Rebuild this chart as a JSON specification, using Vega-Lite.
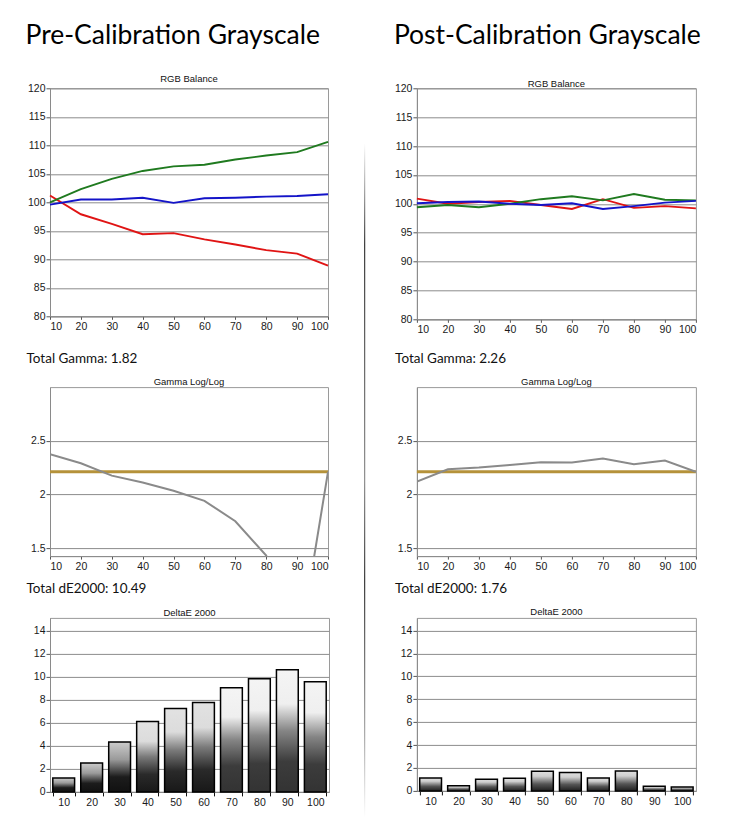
{
  "$schema": "https://vega.github.io/schema/vega-lite/v6.json",
  "background": "white",
  "padding": {"left": 25, "top": 22.3, "right": 5, "bottom": 5},
  "datasets": {
    "rgbPre": [
      {"x": 10, "ch": "R", "v": 101.2}, {"x": 20, "ch": "R", "v": 97.9}, {"x": 30, "ch": "R", "v": 96.2}, {"x": 40, "ch": "R", "v": 94.4}, {"x": 50, "ch": "R", "v": 94.6},
      {"x": 60, "ch": "R", "v": 93.5}, {"x": 70, "ch": "R", "v": 92.6}, {"x": 80, "ch": "R", "v": 91.6}, {"x": 90, "ch": "R", "v": 91.0}, {"x": 100, "ch": "R", "v": 88.9},
      {"x": 10, "ch": "G", "v": 100.0}, {"x": 20, "ch": "G", "v": 102.3}, {"x": 30, "ch": "G", "v": 104.1}, {"x": 40, "ch": "G", "v": 105.5}, {"x": 50, "ch": "G", "v": 106.3},
      {"x": 60, "ch": "G", "v": 106.6}, {"x": 70, "ch": "G", "v": 107.5}, {"x": 80, "ch": "G", "v": 108.2}, {"x": 90, "ch": "G", "v": 108.8}, {"x": 100, "ch": "G", "v": 110.6},
      {"x": 10, "ch": "B", "v": 99.6}, {"x": 20, "ch": "B", "v": 100.5}, {"x": 30, "ch": "B", "v": 100.5}, {"x": 40, "ch": "B", "v": 100.8}, {"x": 50, "ch": "B", "v": 99.9},
      {"x": 60, "ch": "B", "v": 100.7}, {"x": 70, "ch": "B", "v": 100.8}, {"x": 80, "ch": "B", "v": 101.0}, {"x": 90, "ch": "B", "v": 101.1}, {"x": 100, "ch": "B", "v": 101.4}
    ],
    "rgbPost": [
      {"x": 10, "ch": "R", "v": 100.9}, {"x": 20, "ch": "R", "v": 100.0}, {"x": 30, "ch": "R", "v": 100.3}, {"x": 40, "ch": "R", "v": 100.5}, {"x": 50, "ch": "R", "v": 99.8},
      {"x": 60, "ch": "R", "v": 99.1}, {"x": 70, "ch": "R", "v": 100.8}, {"x": 80, "ch": "R", "v": 99.3}, {"x": 90, "ch": "R", "v": 99.6}, {"x": 100, "ch": "R", "v": 99.2},
      {"x": 10, "ch": "G", "v": 99.4}, {"x": 20, "ch": "G", "v": 99.8}, {"x": 30, "ch": "G", "v": 99.4}, {"x": 40, "ch": "G", "v": 100.0}, {"x": 50, "ch": "G", "v": 100.8},
      {"x": 60, "ch": "G", "v": 101.3}, {"x": 70, "ch": "G", "v": 100.6}, {"x": 80, "ch": "G", "v": 101.7}, {"x": 90, "ch": "G", "v": 100.7}, {"x": 100, "ch": "G", "v": 100.6},
      {"x": 10, "ch": "B", "v": 100.1}, {"x": 20, "ch": "B", "v": 100.3}, {"x": 30, "ch": "B", "v": 100.4}, {"x": 40, "ch": "B", "v": 100.0}, {"x": 50, "ch": "B", "v": 99.8},
      {"x": 60, "ch": "B", "v": 100.1}, {"x": 70, "ch": "B", "v": 99.1}, {"x": 80, "ch": "B", "v": 99.6}, {"x": 90, "ch": "B", "v": 100.2}, {"x": 100, "ch": "B", "v": 100.5}
    ],
    "gammaPre": [
      {"x": 10, "g": 2.375}, {"x": 20, "g": 2.29}, {"x": 30, "g": 2.175}, {"x": 40, "g": 2.11}, {"x": 50, "g": 2.034},
      {"x": 60, "g": 1.94}, {"x": 70, "g": 1.75}, {"x": 80, "g": 1.43}, {"x": 90, "g": 0.45}, {"x": 100, "g": 2.21}
    ],
    "gammaPost": [
      {"x": 10, "g": 2.12}, {"x": 20, "g": 2.234}, {"x": 30, "g": 2.25}, {"x": 40, "g": 2.275}, {"x": 50, "g": 2.3},
      {"x": 60, "g": 2.297}, {"x": 70, "g": 2.334}, {"x": 80, "g": 2.28}, {"x": 90, "g": 2.316}, {"x": 100, "g": 2.21}
    ],
    "target": [{"g": 2.21}],
    "dePre": [
      {"x": 10, "de": 1.2}, {"x": 20, "de": 2.5}, {"x": 30, "de": 4.33}, {"x": 40, "de": 6.1}, {"x": 50, "de": 7.23},
      {"x": 60, "de": 7.75}, {"x": 70, "de": 9.03}, {"x": 80, "de": 9.82}, {"x": 90, "de": 10.6}, {"x": 100, "de": 9.56}
    ],
    "dePost": [
      {"x": 10, "de": 1.13}, {"x": 20, "de": 0.44}, {"x": 30, "de": 1.02}, {"x": 40, "de": 1.1}, {"x": 50, "de": 1.71},
      {"x": 60, "de": 1.6}, {"x": 70, "de": 1.13}, {"x": 80, "de": 1.74}, {"x": 90, "de": 0.41}, {"x": 100, "de": 0.35}
    ],
    "divider": [{"a": 0, "b": 0.9246}]
  },
  "config": {
    "font": "Liberation Sans",
    "view": {"stroke": "#9a9a9a", "strokeWidth": 1},
    "axis": {
      "domainColor": "#8a8a8a", "tickColor": "#555555", "gridColor": "#8c8c8c", "gridWidth": 1,
      "labelColor": "#1a1a1a", "labelFont": "Liberation Sans", "labelFontSize": 10.5, "tickSize": 4, "labelPadding": 1,
      "titleFont": "Lato", "titleFontSize": 13.5, "titleFontWeight": "normal", "titleColor": "#111111"
    },
    "title": {"font": "Liberation Sans", "fontSize": 9.5, "fontWeight": "normal", "color": "#111111", "offset": 3}
  },
  "spacing": 31.2,
  "hconcat": [
    {
      "title": {"text": "Pre-Calibration Grayscale", "font": "Lato", "fontSize": 26.5, "anchor": "start", "frame": "bounds", "color": "#000000", "offset": 24.9},
      "spacing": 10.8,
      "vconcat": [
        {
          "width": 278, "height": 228,
          "title": {"text": "RGB Balance", "offset": -0.7},
          "data": {"name": "rgbPre"},
          "mark": {"type": "line", "strokeWidth": 1.9},
          "encoding": {
            "x": {"field": "x", "type": "quantitative", "scale": {"domain": [10, 100], "nice": false, "zero": false},
              "axis": {"values": [10, 20, 30, 40, 50, 60, 70, 80, 90, 100], "grid": false, "tickSize": 3, "labelPadding": 2,
                "title": "Total Gamma: 1.82", "titleX": -24, "titleY": 42, "titleAlign": "left", "titleBaseline": "middle", "titleAnchor": "start"}},
            "y": {"field": "v", "type": "quantitative", "scale": {"domain": [80, 120], "nice": false, "zero": false},
              "axis": {"values": [80, 85, 90, 95, 100, 105, 110, 115, 120], "grid": true, "title": null}},
            "color": {"field": "ch", "type": "nominal", "scale": {"domain": ["R", "G", "B"], "range": ["#e01414", "#1f7a1f", "#1414c8"]}, "legend": null},
            "order": {"field": "ch", "sort": "descending"}
          }
        },
        {
          "width": 278, "height": 169,
          "title": {"text": "Gamma Log/Log", "offset": 0.25},
          "layer": [
            {
              "data": {"name": "target"},
              "mark": {"type": "rule", "color": "#b5923a", "strokeWidth": 3},
              "encoding": {"y": {"field": "g", "type": "quantitative"}}
            },
            {
              "data": {"name": "gammaPre"},
              "mark": {"type": "line", "color": "#8a8a8a", "strokeWidth": 2, "clip": true},
              "encoding": {
                "x": {"field": "x", "type": "quantitative", "scale": {"domain": [10, 100], "nice": false, "zero": false},
                  "axis": {"values": [10, 20, 30, 40, 50, 60, 70, 80, 90, 100], "grid": false, "tickSize": 3, "labelPadding": 2,
                    "title": "Total dE2000: 10.49", "titleX": -24, "titleY": 32.3, "titleAlign": "left", "titleBaseline": "middle", "titleAnchor": "start"}},
                "y": {"field": "g", "type": "quantitative", "scale": {"domain": [1.425, 3.0], "nice": false, "zero": false},
                  "axis": {"values": [1.5, 2, 2.5], "grid": true, "title": null, "labelExpr": "datum.value + ''"}}
              }
            }
          ]
        },
        {
          "width": 279, "height": 174,
          "title": {"text": "DeltaE 2000", "offset": 0.5},
          "data": {"name": "dePre"},
          "encoding": {
            "x": {"field": "x", "type": "ordinal", "scale": {"paddingInner": 0.22, "paddingOuter": 0.1},
              "axis": {"tickBand": "extent", "labelAngle": 0, "title": null, "grid": false, "tickColor": "#111111", "tickSize": 4, "labelPadding": 2}},
            "y": {"field": "de", "type": "quantitative", "scale": {"domain": [0, 15.1], "nice": false},
              "axis": {"values": [0, 2, 4, 6, 8, 10, 12, 14], "grid": true, "title": null, "labelPadding": 1}}
          },
          "layer": [
            {
              "transform": [{"filter": "datum.x <= 30"}],
              "mark": {"type": "bar", "stroke": "#000000", "strokeWidth": 1.5,
                "color": {"gradient": "linear", "x1": 0, "y1": 1, "x2": 0, "y2": 0,
                  "stops": [{"offset": 0, "color": "#111111"}, {"offset": 0.3, "color": "#1c1c1c"}, {"offset": 0.65, "color": "#9a9a9a"}, {"offset": 1, "color": "#cccccc"}]}}
            },
            {
              "transform": [{"filter": "datum.x > 30 && datum.x <= 60"}],
              "mark": {"type": "bar", "stroke": "#000000", "strokeWidth": 1.5,
                "color": {"gradient": "linear", "x1": 0, "y1": 1, "x2": 0, "y2": 0,
                  "stops": [{"offset": 0, "color": "#181818"}, {"offset": 0.25, "color": "#2a2a2a"}, {"offset": 0.5, "color": "#7a7a7a"}, {"offset": 0.72, "color": "#dcdcdc"}, {"offset": 1, "color": "#e2e2e2"}]}}
            },
            {
              "transform": [{"filter": "datum.x > 60"}],
              "mark": {"type": "bar", "stroke": "#000000", "strokeWidth": 1.5,
                "color": {"gradient": "linear", "x1": 0, "y1": 1, "x2": 0, "y2": 0,
                  "stops": [{"offset": 0, "color": "#333333"}, {"offset": 0.25, "color": "#3c3c3c"}, {"offset": 0.5, "color": "#858585"}, {"offset": 0.72, "color": "#efefef"}, {"offset": 1, "color": "#f4f4f4"}]}}
            }
          ]
        }
      ]
    },
    {
      "spacing": 27.7,
      "hconcat": [
        {
          "width": 1, "height": 729,
          "view": {"stroke": null},
          "data": {"name": "divider"},
          "mark": {"type": "rect",
            "color": {"gradient": "linear", "x1": 0, "y1": 0, "x2": 0, "y2": 1,
              "stops": [{"offset": 0, "color": "#ffffff"}, {"offset": 0.15, "color": "#111111"}, {"offset": 0.5, "color": "#777777"}, {"offset": 0.65, "color": "#111111"}, {"offset": 0.88, "color": "#999999"}, {"offset": 1, "color": "#ffffff"}]}},
          "encoding": {
            "x": {"datum": 0, "type": "quantitative", "scale": {"domain": [0, 1]}, "axis": null},
            "x2": {"datum": 1},
            "y": {"field": "a", "type": "quantitative", "scale": {"domain": [0, 1]}, "axis": null},
            "y2": {"field": "b"}
          }
        },
        {
          "title": {"text": "Post-Calibration Grayscale", "font": "Lato", "fontSize": 26.5, "anchor": "start", "frame": "bounds", "color": "#000000", "offset": 29.9},
          "spacing": 10.8,
          "vconcat": [
            {
              "width": 279, "height": 231,
              "title": {"text": "RGB Balance", "offset": -5.7},
              "data": {"name": "rgbPost"},
              "mark": {"type": "line", "strokeWidth": 1.9},
              "encoding": {
                "x": {"field": "x", "type": "quantitative", "scale": {"domain": [10, 100], "nice": false, "zero": false},
                  "axis": {"values": [10, 20, 30, 40, 50, 60, 70, 80, 90, 100], "grid": false, "tickSize": 3, "labelPadding": 2,
                    "title": "Total Gamma: 2.26", "titleX": -22.3, "titleY": 39, "titleAlign": "left", "titleBaseline": "middle", "titleAnchor": "start"}},
                "y": {"field": "v", "type": "quantitative", "scale": {"domain": [80, 120], "nice": false, "zero": false},
                  "axis": {"values": [80, 85, 90, 95, 100, 105, 110, 115, 120], "grid": true, "title": null}},
                "color": {"field": "ch", "type": "nominal", "scale": {"domain": ["R", "G", "B"], "range": ["#e01414", "#1f7a1f", "#1414c8"]}, "legend": null},
                "order": {"field": "ch", "sort": "descending"}
              }
            },
            {
              "width": 279, "height": 169,
              "title": {"text": "Gamma Log/Log", "offset": 0.25},
              "layer": [
                {
                  "data": {"name": "target"},
                  "mark": {"type": "rule", "color": "#b5923a", "strokeWidth": 3},
                  "encoding": {"y": {"field": "g", "type": "quantitative"}}
                },
                {
                  "data": {"name": "gammaPost"},
                  "mark": {"type": "line", "color": "#8a8a8a", "strokeWidth": 2, "clip": true},
                  "encoding": {
                    "x": {"field": "x", "type": "quantitative", "scale": {"domain": [10, 100], "nice": false, "zero": false},
                      "axis": {"values": [10, 20, 30, 40, 50, 60, 70, 80, 90, 100], "grid": false, "tickSize": 3, "labelPadding": 2,
                        "title": "Total dE2000: 1.76", "titleX": -22.3, "titleY": 32, "titleAlign": "left", "titleBaseline": "middle", "titleAnchor": "start"}},
                    "y": {"field": "g", "type": "quantitative", "scale": {"domain": [1.425, 3.0], "nice": false, "zero": false},
                      "axis": {"values": [1.5, 2, 2.5], "grid": true, "title": null, "labelExpr": "datum.value + ''"}}
                  }
                }
              ]
            },
            {
              "width": 279, "height": 173,
              "title": {"text": "DeltaE 2000", "offset": 1.05},
              "data": {"name": "dePost"},
              "mark": {"type": "bar", "stroke": "#000000", "strokeWidth": 1.5,
                "color": {"gradient": "linear", "x1": 0, "y1": 1, "x2": 0, "y2": 0,
                  "stops": [{"offset": 0, "color": "#1e1e1e"}, {"offset": 0.35, "color": "#555555"}, {"offset": 0.75, "color": "#cfcfcf"}, {"offset": 1, "color": "#e0e0e0"}]}},
              "encoding": {
                "x": {"field": "x", "type": "ordinal", "scale": {"paddingInner": 0.22, "paddingOuter": 0.1},
                  "axis": {"tickBand": "extent", "labelAngle": 0, "title": null, "grid": false, "tickColor": "#111111", "tickSize": 4, "labelPadding": 2}},
                "y": {"field": "de", "type": "quantitative", "scale": {"domain": [0, 15.1], "nice": false},
                  "axis": {"values": [0, 2, 4, 6, 8, 10, 12, 14], "grid": true, "title": null, "labelPadding": 1}}
              }
            }
          ]
        }
      ]
    }
  ]
}
